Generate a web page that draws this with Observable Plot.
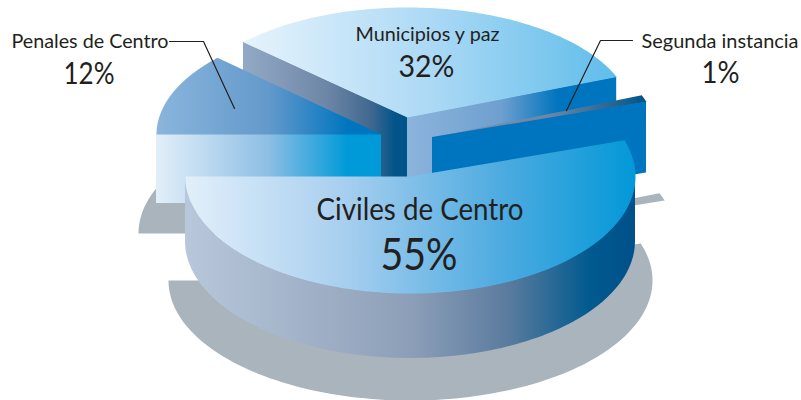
<!DOCTYPE html>
<html>
<head>
<meta charset="utf-8">
<script src="https://cdn.jsdelivr.net/npm/d3@7"></script>
<script src="https://cdn.jsdelivr.net/npm/@observablehq/plot@0.6"></script>
<style>html,body{margin:0;padding:0;background:#fff}svg{display:block}</style>
</head>
<body>
<div id="chart"></div>
<script>
// Data, clockwise from the 9 o'clock position
const categories = ["Penales de Centro", "Municipios y paz", "Segunda instancia", "Civiles de Centro"];
const shares = [12, 32, 1, 55];

// Exploded slice placement
const RX = 225, SHADOW_RX = 242, SHADOW_RY = 120;
const placement = {
  "Penales de Centro": {cx: 381, cy: 134, ry: 112, depth: 69, sx: 380, sy: 233},
  "Municipios y paz":  {cx: 407, cy: 117, ry: 110, depth: 72, sx: 407, sy: 216},
  "Segunda instancia": {cx: 432, cy: 137, ry: 115, depth: 71, sx: 434, sy: 237},
  "Civiles de Centro": {cx: 410, cy: 176, ry: 117, depth: 65, sx: 410, sy: 280}
};

const arcs = d3.pie().sort(null).startAngle(-Math.PI / 2).endAngle(1.5 * Math.PI)(shares);
const slices = categories.map((name, i) => ({name, share: shares[i], a0: arcs[i].startAngle, a1: arcs[i].endAngle, ...placement[name]}));
const byName = Object.fromEntries(slices.map(s => [s.name, s]));

const pt = (a, cx, cy, rx, ry) => ({x: cx + rx * Math.sin(a), y: cy - ry * Math.cos(a)});
const sweep = (a0, a1) => d3.range(0, 121).map(k => a0 + (a1 - a0) * k / 120);
function wedge(s, cx = s.cx, cy = s.cy, rx = RX, ry = s.ry) {
  const p = {x: cx, y: cy};
  return [p, ...sweep(s.a0, s.a1).map(a => pt(a, cx, cy, rx, ry)), p];
}
// flat wall along a slice radius
function radialWall(s, a) {
  const e = pt(a, s.cx, s.cy, RX, s.ry);
  const pts = [{x: s.cx, y1: s.cy, y2: s.cy + s.depth}, {x: e.x, y1: e.y, y2: e.y + s.depth}];
  return pts.sort((u, v) => u.x - v.x);
}
// curved outer wall, visible from 9 o'clock through 6 to 3 o'clock
function rimWall(s) {
  return sweep(1.5 * Math.PI, Math.PI / 2).map(a => {
    const e = pt(a, s.cx, s.cy, RX, s.ry);
    return {x: e.x, y1: e.y, y2: e.y + s.depth};
  });
}

const gradients = {
  munTop:   [[0, "#e6f3fc"], [0.5, "#acd9f5"], [1, "#5fbdea"]],
  munLeft:  [[0, "#93aac6"], [0.5, "#6f87a7"], [0.78, "#40688f"], [0.93, "#00548a"], [1, "#00548a"]],
  munRight: [[0, "#8bb4dc"], [0.45, "#6f9fcf"], [0.72, "#0075bf"], [1, "#0075bf"]],
  penTop:   [[0, "#8ab5dc"], [0.5, "#6399cb"], [0.85, "#0075bf"], [1, "#0075bf"]],
  penFront: [[0, "#e2eff9"], [0.5, "#8dbee4"], [0.85, "#009ad9"], [1, "#009ad9"]],
  segTop:   [[0, "#8493a9"], [0.55, "#6d86a4"], [1, "#00548a"]],
  civTop:   [[0, "#e2effa"], [0.35, "#a8cfef"], [0.7, "#4eabe0"], [1, "#0398d8"]],
  civWall:  [[0, "#b8c7da"], [0.5, "#8d9fb8"], [0.72, "#5a7b9e"], [0.9, "#005a8f"], [1, "#00508a"]]
};
const gradientDefs = () => {
  const defs = d3.create("svg:defs");
  for (const [id, stops] of Object.entries(gradients)) {
    const g = defs.append("linearGradient").attr("id", id).attr("x1", 0).attr("x2", 1).attr("y1", 0).attr("y2", 0);
    stops.forEach(([o, c]) => g.append("stop").attr("offset", o).attr("stop-color", c));
  }
  return defs.node();
};

const SHADOW = "#a9b4bc", INK = "#231f20";
const face = (pts, fill) => Plot.line(pts, {x: "x", y: "y", fill, stroke: null, curve: "linear"});
const wall = (pts, fill) => Plot.areaY(pts, {x: "x", y1: "y1", y2: "y2", fill, curve: "linear"});

const pen = byName["Penales de Centro"], mun = byName["Municipios y paz"], seg = byName["Segunda instancia"], civ = byName["Civiles de Centro"];

const leaders = [
  {id: "p", x: 169, y: 41}, {id: "p", x: 203, y: 41}, {id: "p", x: 234, y: 108},
  {id: "s", x: 632, y: 40}, {id: "s", x: 600, y: 40}, {id: "s", x: 566, y: 110}
];
const nameLabels = [
  {t: categories[0], x: 89.5, y: 41, size: 20, w: 157},
  {t: categories[1], x: 427, y: 34, size: 20, w: 144},
  {t: categories[2], x: 719.5, y: 41, size: 20, w: 157},
  {t: categories[3], x: 419.5, y: 210, size: 31, w: 207}
];
const pctLabels = [
  {t: shares[0] + "%", x: 88.5, y: 74, size: 30, w: 51},
  {t: shares[1] + "%", x: 426, y: 67, size: 30, w: 56},
  {t: shares[2] + "%", x: 720, y: 73, size: 30, w: 38},
  {t: shares[3] + "%", x: 418.5, y: 255, size: 44, w: 77}
];
const labels = [...nameLabels, ...pctLabels];

const chart = Plot.plot({
  width: 801, height: 400, margin: 0,
  x: {domain: [0, 801], range: [0, 801], axis: null},
  y: {domain: [0, 400], range: [0, 400], axis: null},
  style: {background: "#fff"},
  marks: [
    gradientDefs,
    ...slices.map(s => face(wedge(s, s.sx, s.sy, SHADOW_RX, SHADOW_RY), SHADOW)),
    wall(radialWall(mun, mun.a0), "url(#munLeft)"),
    wall(radialWall(mun, mun.a1), "url(#munRight)"),
    face(wedge(mun), "url(#munTop)"),
    wall(radialWall(pen, pen.a0), "url(#penFront)"),
    face(wedge(pen), "url(#penTop)"),
    face(wedge(seg), "url(#segTop)"),
    wall(radialWall(seg, seg.a1), "#0075bf"),
    wall(rimWall(civ), "url(#civWall)"),
    face(wedge(civ), "url(#civTop)"),
    Plot.line(leaders, {x: "x", y: "y", z: "id", stroke: INK, strokeWidth: 1.2, curve: "linear"}),
    ...labels.map(l => Plot.text([l], {x: "x", y: "y", text: "t", fontSize: l.size, fontFamily: "Lato", fill: INK, textAnchor: "middle", lineAnchor: "middle"}))
  ]
});
// Fit glyphs to the reference's condensed widths
const texts = chart.querySelectorAll("text");
texts.forEach(el => {
  const l = labels.find(d => d.t === el.textContent);
  if (l) { el.setAttribute("textLength", l.w); el.setAttribute("lengthAdjust", "spacingAndGlyphs"); }
});
document.getElementById("chart").append(chart);
</script>
</body>
</html>
